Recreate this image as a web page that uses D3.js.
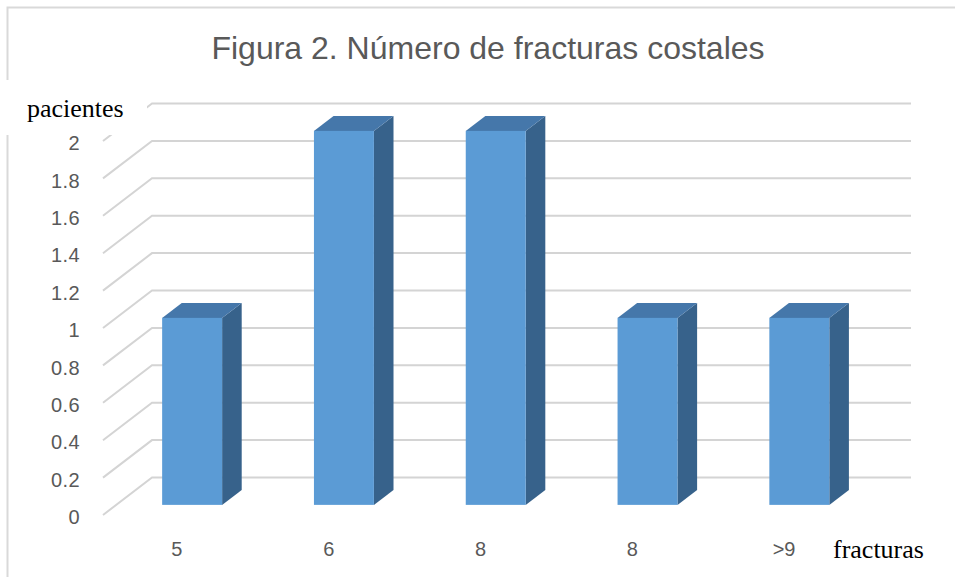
<!DOCTYPE html>
<html><head><meta charset="utf-8">
<script src="https://cdn.jsdelivr.net/npm/d3@7"></script>
<style>body{margin:0;background:#fff}svg{display:block}</style>
</head><body>
<svg id="c" width="955" height="577"></svg>
<script>
const categories = ["5", "6", "8", "8", ">9"];
const values = [1, 2, 2, 1, 1];
const yTicks = [0, 0.2, 0.4, 0.6, 0.8, 1, 1.2, 1.4, 1.6, 1.8, 2];
const yTickLabels = ["0", "0.2", "0.4", "0.6", "0.8", "1", "1.2", "1.4", "1.6", "1.8", "2"];
const title = "Figura 2. Número de fracturas costales";
const yAxisTitle = "pacientes";
const xAxisTitle = "fracturas";

const svg = d3.select("#c");
const W = 955, H = 577;
const DX = 49, DY = -37.5;
const frontLeft = 103, frontRight = 862;
const x = d3.scaleBand().domain(d3.range(categories.length)).range([frontLeft, frontRight]).paddingInner(0).paddingOuter(0);
const y = d3.scaleLinear().domain([0, 2]).range([515, 141]);
const depth = (d) => [DX * d, DY * d];

const grid = "#d4d4d4";
svg.append("path").attr("d", `M7.5,${H} L7.5,7.5 L${W},7.5`).attr("fill", "none").attr("stroke", "#d9d9d9").attr("stroke-width", 2);

const gl = svg.append("g");
yTicks.forEach(v => {
  const [bx, by] = depth(1);
  gl.append("path")
    .attr("d", `M${frontLeft},${y(v)} L${frontLeft + bx},${y(v) + by} L${frontRight + bx},${y(v) + by}`)
    .attr("fill", "none").attr("stroke", grid).attr("stroke-width", 2);
});

const d1 = 0.27, d2 = 0.67;
const barFrac = 0.395;
const bars = svg.append("g");
values.forEach((v, i) => {
  const bw = x.bandwidth() * barFrac;
  const cx = x(i) + x.bandwidth() / 2;
  const [fx, fy] = depth(d1);
  const [bx2, by2] = depth(d2);
  const sx = bx2 - fx, sy = by2 - fy;
  const x0 = cx - bw / 2 + fx, x1 = cx + bw / 2 + fx;
  const yb = y(0) + fy, yt = y(v) + fy;
  bars.append("path").attr("d", `M${x1},${yb} L${x1 + sx},${yb + sy} L${x1 + sx},${yt + sy} L${x1},${yt} Z`).attr("fill", "#37628b");
  bars.append("path").attr("d", `M${x0},${yt} L${x0 + sx},${yt + sy} L${x1 + sx},${yt + sy} L${x1},${yt} Z`).attr("fill", "#4577aa");
  bars.append("rect").attr("x", x0).attr("y", yt).attr("width", bw).attr("height", yb - yt).attr("fill", "#5b9bd5");
});

const tickFont = "'Liberation Sans', Arial, sans-serif";
svg.append("g").selectAll("text").data(yTicks).join("text")
  .attr("x", 80).attr("y", d => y(d) + 2).attr("dy", "0.36em")
  .attr("text-anchor", "end").attr("font-family", tickFont)
  .attr("font-size", 20).attr("letter-spacing", 0.4).attr("fill", "#595959")
  .text((d, i) => yTickLabels[i]);

svg.append("g").selectAll("text").data(categories).join("text")
  .attr("x", (d, i) => x(i) + x.bandwidth() / 2 - 2).attr("y", 549).attr("dy", "0.36em")
  .attr("text-anchor", "middle").attr("font-family", tickFont)
  .attr("font-size", 20).attr("fill", "#595959")
  .text(d => d);

svg.append("rect").attr("x", 0).attr("y", 80).attr("width", 147).attr("height", 55).attr("fill", "#fff");
svg.append("text").attr("x", 27).attr("y", 117).attr("font-family", "'Liberation Serif', 'Times New Roman', serif")
  .attr("font-size", 26).attr("fill", "#000").text(yAxisTitle);
svg.append("text").attr("x", 833).attr("y", 558).attr("font-family", "'Liberation Serif', 'Times New Roman', serif")
  .attr("font-size", 26).attr("fill", "#000").text(xAxisTitle);

svg.append("text").attr("x", 488).attr("y", 59).attr("text-anchor", "middle")
  .attr("font-family", "'Liberation Sans', Arial, sans-serif").attr("font-size", 32).attr("fill", "#595959")
  .text(title);
</script>
</body></html>
